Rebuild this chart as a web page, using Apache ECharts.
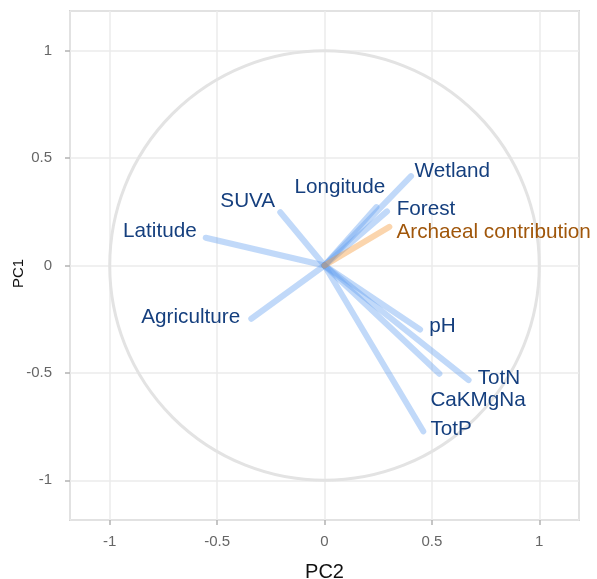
<!DOCTYPE html>
<html>
<head>
<meta charset="utf-8">
<script src="https://cdn.jsdelivr.net/npm/echarts@6/dist/echarts.min.js"></script>
<style>
  html, body { margin: 0; padding: 0; background: #fff; }
  #chart { width: 597px; height: 579px; }
</style>
</head>
<body>
<div id="chart"></div>
<script>
// variable names and loadings (PC2 on x, PC1 on y)
const varNames = ['Wetland', 'Forest', 'Longitude', 'SUVA', 'Latitude', 'Agriculture', 'pH', 'CaKMgNa', 'TotN', 'TotP']
const pc2 = [0.403, 0.291, 0.242, -0.206, -0.553, -0.341, 0.445, 0.535, 0.671, 0.460]
const pc1 = [0.416, 0.252, 0.272, 0.248, 0.129, -0.248, -0.298, -0.504, -0.534, -0.772]

// supplementary variable
const suppName = 'Archaeal contribution'
const suppPc2 = 0.302
const suppPc1 = 0.180

// repelled label anchors (data units, left edge / middle of text)
const labelPc2 = [0.419, 0.336, -0.140, -0.485, -0.938, -0.853, 0.488, 0.493, 0.713, 0.493]
const labelPc1 = [0.449, 0.270, 0.373, 0.309, 0.169, -0.231, -0.273, -0.619, -0.517, -0.755]
const suppLabel = [0.335, 0.162]

const FONT = "'Liberation Sans', Arial, sans-serif"
const BLUE_LINE = 'rgba(100, 160, 240, 0.4)'
const ORANGE_LINE = 'rgba(245, 150, 50, 0.4)'
const BLUE_TEXT = '#153f7e'
const ORANGE_TEXT = '#a0560a'

const chart = echarts.init(document.getElementById('chart'))

const axisCommon = {
  type: 'value',
  min: -1.185,
  max: 1.185,
  splitNumber: 5,
  nameMoveOverlap: false,
  axisLine: { show: false, onZero: false },
  axisTick: { show: true, length: 5, lineStyle: { color: '#b3b3b3', width: 1.5 } },
  splitLine: { show: true, lineStyle: { color: '#ebebeb', width: 1.5 } },
  axisLabel: {
    showMinLabel: false,
    showMaxLabel: false,
    color: '#666',
    fontSize: 15,
    fontFamily: FONT,
    formatter: v => (Math.abs(v * 2 - Math.round(v * 2)) < 1e-6 ? String(v) : '')
  }
}

const labelSeries = (names, values, color) => ({
  type: 'scatter',
  symbolSize: 0,
  z: 5,
  silent: true,
  itemStyle: { opacity: 1 },
  label: {
    show: true, position: 'right', distance: 0, opacity: 1,
    offset: [0, 2],
    formatter: p => p.name,
    color: color, fontSize: 20.7, fontFamily: FONT
  },
  emphasis: { disabled: true },
  data: names.map((n, i) => ({ name: n, value: values[i] }))
})

chart.setOption({
  animation: false,
  backgroundColor: '#fff',
  grid: {
    left: 70, right: 18, top: 11, bottom: 59,
    outerBoundsMode: 'none',
    containLabel: false,
    show: true, borderColor: '#b3b3b3', borderWidth: 1.5, backgroundColor: 'transparent'
  },
  xAxis: Object.assign({}, axisCommon, {
    name: 'PC2',
    nameLocation: 'middle',
    nameGap: 42,
    nameTextStyle: { color: '#111', fontSize: 20, fontFamily: FONT },
    axisLabel: Object.assign({}, axisCommon.axisLabel, { margin: 14 })
  }),
  yAxis: Object.assign({}, axisCommon, {
    name: 'PC1',
    nameLocation: 'middle',
    nameGap: 44,
    nameTextStyle: { color: '#111', fontSize: 15, fontFamily: FONT, padding: [0, 16, 0, 0] },
    axisLabel: Object.assign({}, axisCommon.axisLabel, { margin: 18 })
  }),
  series: [
    {
      type: 'lines',
      coordinateSystem: 'cartesian2d',
      z: 3,
      lineStyle: { color: BLUE_LINE, width: 6, cap: 'round', opacity: 1 },
      data: varNames.map((n, i) => ({ name: n, coords: [[0, 0], [pc2[i], pc1[i]]] }))
    },
    {
      type: 'lines',
      coordinateSystem: 'cartesian2d',
      z: 4,
      lineStyle: { color: ORANGE_LINE, width: 6, cap: 'round', opacity: 1 },
      data: [{ name: suppName, coords: [[0, 0], [suppPc2, suppPc1]] }]
    },
    labelSeries(varNames, varNames.map((n, i) => [labelPc2[i], labelPc1[i]]), BLUE_TEXT),
    labelSeries([suppName], [suppLabel], ORANGE_TEXT)
  ]
})

// unit correlation circle
const c0 = chart.convertToPixel({ gridIndex: 0 }, [0, 0])
const c1 = chart.convertToPixel({ gridIndex: 0 }, [1, 0])
chart.setOption({
  graphic: [{
    type: 'circle',
    z: 1,
    silent: true,
    shape: { cx: c0[0], cy: c0[1], r: c1[0] - c0[0] },
    style: { fill: 'none', stroke: '#e3e3e3', lineWidth: 3 }
  }]
})
</script>
</body>
</html>
